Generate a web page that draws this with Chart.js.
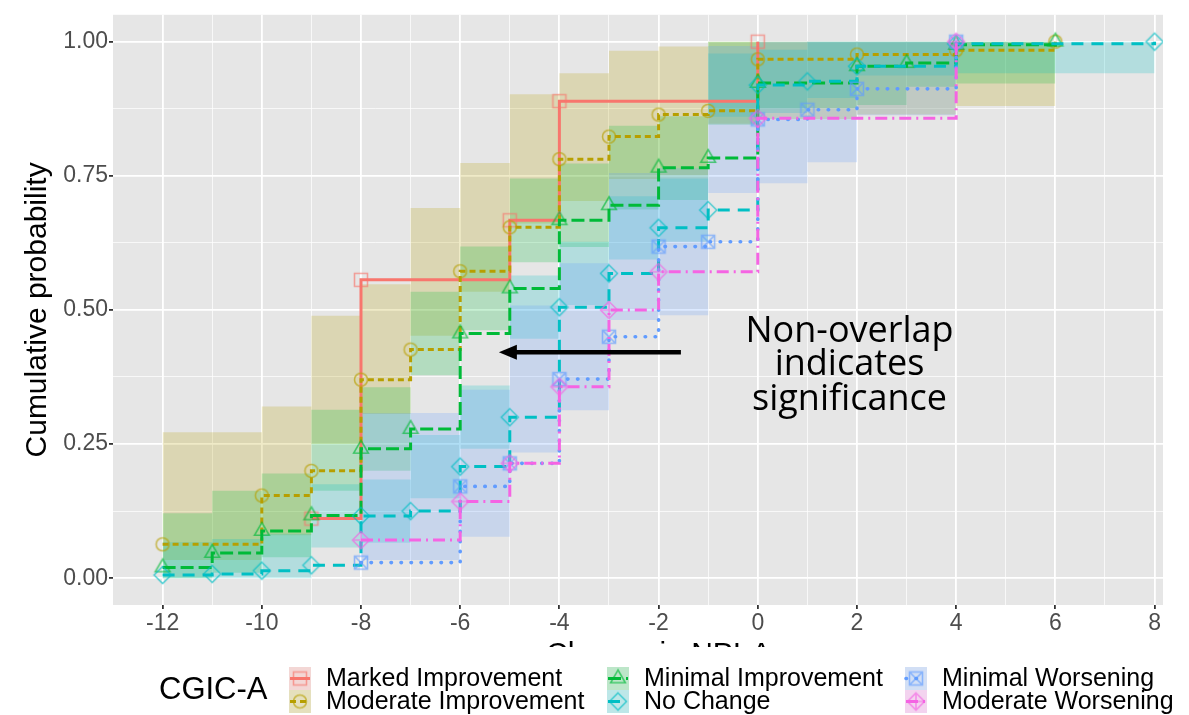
<!DOCTYPE html>
<html>
<head>
<meta charset="utf-8">
<script src="https://cdn.jsdelivr.net/npm/chart.js@4.4.1/dist/chart.umd.min.js"></script>
<style>
  html, body { margin: 0; padding: 0; background: #ffffff; }
  #wrap { position: relative; width: 1189px; height: 715px; }
</style>
</head>
<body>
<div id="wrap"><canvas id="cdfChart" width="1189" height="715"></canvas></div>
<script>
// CGIC-A rating groups, in legend order
const groups = ['Marked Improvement', 'Moderate Improvement', 'Minimal Improvement',
                'No Change', 'Minimal Worsening', 'Moderate Worsening'];

// Change in NPI-A where each group's ECDF steps up, and the cumulative probability after the step
const markedX   = [-9, -8, -5, -4, 0];
const markedP   = [0.111, 0.556, 0.667, 0.889, 1.0];
const moderateX = [-12, -10, -9, -8, -7, -6, -5, -4, -3, -2, -1, 0, 2, 4, 6];
const moderateP = [0.063, 0.154, 0.200, 0.370, 0.426, 0.572, 0.654, 0.781, 0.823, 0.864, 0.871, 0.967, 0.976, 0.984, 1.0];
const minimalX  = [-12, -11, -10, -9, -8, -7, -6, -5, -4, -3, -2, -1, 0, 2, 3, 4, 6];
const minimalP  = [0.020, 0.047, 0.088, 0.117, 0.241, 0.278, 0.456, 0.540, 0.667, 0.695, 0.765, 0.783, 0.923, 0.954, 0.960, 0.994, 1.0];
const noChangeX = [-12, -11, -10, -9, -8, -7, -6, -5, -4, -3, -2, -1, 0, 1, 2, 4, 8];
const noChangeP = [0.006, 0.008, 0.014, 0.024, 0.116, 0.125, 0.208, 0.300, 0.505, 0.568, 0.653, 0.686, 0.919, 0.926, 0.954, 0.996, 1.0];
const minWorseX = [-8, -6, -5, -4, -3, -2, -1, 0, 1, 2, 4];
const minWorseP = [0.029, 0.171, 0.214, 0.371, 0.450, 0.618, 0.627, 0.855, 0.873, 0.912, 1.0];
const modWorseX = [-8, -6, -5, -4, -3, -2, 0, 4];
const modWorseP = [0.071, 0.143, 0.214, 0.357, 0.500, 0.571, 0.857, 1.0];

// Confidence bands: breakpoints, then lower / upper bound for each interval between them
const moderateBandX  = [-12, -10, -9, -8, -7, -6, -5, -4, -3, -2, -1, 0, 2, 4, 6];
const moderateLo     = [0.034, 0.080, 0.250, 0.306, 0.452, 0.534, 0.661, 0.703, 0.744, 0.751, 0.847, 0.856, 0.864, 0.880];
const moderateHi     = [0.272, 0.320, 0.489, 0.548, 0.690, 0.774, 0.902, 0.941, 0.983, 0.991, 1.0, 1.0, 1.0, 1.0];
const minimalBandX   = [-12, -11, -10, -9, -8, -7, -6, -5, -4, -3, -2, -1, 0, 2, 3, 4, 6];
const minimalLo      = [0.0, 0.010, 0.039, 0.163, 0.200, 0.378, 0.462, 0.589, 0.617, 0.687, 0.705, 0.845, 0.876, 0.882, 0.916, 0.922];
const minimalHi      = [0.121, 0.163, 0.195, 0.314, 0.356, 0.534, 0.618, 0.745, 0.773, 0.843, 0.861, 1.0, 1.0, 1.0, 1.0, 1.0];
const noChangeBandX  = [-12, -11, -10, -9, -8, -7, -6, -5, -4, -3, -2, -1, 0, 1, 2, 4, 8];
const noChangeLo     = [0.0, 0.0, 0.0, 0.057, 0.066, 0.149, 0.241, 0.446, 0.509, 0.594, 0.627, 0.860, 0.867, 0.895, 0.937, 0.941];
const noChangeHi     = [0.067, 0.073, 0.083, 0.175, 0.184, 0.267, 0.359, 0.564, 0.627, 0.712, 0.745, 0.978, 0.985, 1.0, 1.0, 1.0];
const minWorseBandX  = [-8, -6, -5, -4, -3, -2, -1, 0, 1, 2, 4];
const minWorseLo     = [0.034, 0.077, 0.234, 0.313, 0.481, 0.490, 0.718, 0.736, 0.775, 0.863];
const minWorseHi     = [0.308, 0.351, 0.508, 0.587, 0.755, 0.764, 0.992, 1.0, 1.0, 1.0];

// Axis tick labels
const xTickLabels = ['-12', '-10', '-8', '-6', '-4', '-2', '0', '2', '4', '6', '8'];
const yTickLabels = ['0.00', '0.25', '0.50', '0.75', '1.00'];

// ggplot default hues and the per-group line / marker styles
const hues    = ['#F8766D', '#B79F00', '#00BA38', '#00BFC4', '#619CFF', '#F564E3'];
const dashes  = [[], [6, 4], [13, 5], [12, 8], [0.5, 9.5], [12, 5, 2, 5]];
const caps    = ['butt', 'butt', 'butt', 'butt', 'round', 'butt'];
const widths  = [3, 3, 3, 3, 3.6, 3];
const shapes  = ['square', 'circle', 'triangle', 'diamond', 'squareX', 'diamondPlus'];

function rgba(hex, a) {
  const n = parseInt(hex.slice(1), 16);
  return `rgba(${n >> 16},${(n >> 8) & 255},${n & 255},${a})`;
}

// open ggplot-like point shapes rendered once into small canvases
function makeMarker(shape, color) {
  const s = 22, m = s / 2;
  const c = document.createElement('canvas');
  c.width = s; c.height = s;
  const g = c.getContext('2d');
  g.strokeStyle = color;
  g.lineWidth = 1.6;
  g.beginPath();
  if (shape === 'square' || shape === 'squareX') {
    const h = 6.5;
    g.rect(m - h, m - h, 2 * h, 2 * h);
    if (shape === 'squareX') {
      g.moveTo(m - h, m - h); g.lineTo(m + h, m + h);
      g.moveTo(m + h, m - h); g.lineTo(m - h, m + h);
    }
  } else if (shape === 'circle') {
    g.arc(m, m, 6.5, 0, Math.PI * 2);
  } else if (shape === 'triangle') {
    const r = 8.5;
    g.moveTo(m, m - r);
    g.lineTo(m + r * 0.866, m + r / 2);
    g.lineTo(m - r * 0.866, m + r / 2);
    g.closePath();
  } else {
    const h = 8.5;
    g.moveTo(m, m - h); g.lineTo(m + h, m); g.lineTo(m, m + h); g.lineTo(m - h, m);
    g.closePath();
    if (shape === 'diamondPlus') {
      g.moveTo(m, m - h); g.lineTo(m, m + h);
      g.moveTo(m - h, m); g.lineTo(m + h, m);
    }
  }
  g.stroke();
  return c;
}
const markers = shapes.map((s, i) => makeMarker(s, rgba(hues[i], 0.65)));

function stepPoints(xs, ps) {
  return xs.map((x, i) => ({ x: x, y: ps[i] }));
}
// one value per interval, held from its left breakpoint to the next one
function bandPoints(xs, vals) {
  const pts = vals.map((v, i) => ({ x: xs[i], y: v }));
  pts.push({ x: xs[xs.length - 1], y: vals[vals.length - 1] });
  return pts;
}

// horizontal first, then vertical (ggplot's "hv" step)
const STEP = 'before';

const datasets = [];
const bands = [
  { g: 1, x: moderateBandX, lo: moderateLo, hi: moderateHi },
  { g: 2, x: minimalBandX,  lo: minimalLo,  hi: minimalHi },
  { g: 3, x: noChangeBandX, lo: noChangeLo, hi: noChangeHi },
  { g: 4, x: minWorseBandX, lo: minWorseLo, hi: minWorseHi }
];
bands.forEach((b, k) => {
  const order = 20 - k;
  datasets.push({
    label: groups[b.g] + ' lower', data: bandPoints(b.x, b.lo), stepped: STEP,
    borderWidth: 0, borderColor: 'transparent', pointRadius: 0, fill: false, order: order
  });
  datasets.push({
    label: groups[b.g] + ' upper', data: bandPoints(b.x, b.hi), stepped: STEP,
    borderWidth: 0, borderColor: 'transparent', pointRadius: 0,
    fill: '-1', backgroundColor: rgba(hues[b.g], 0.22), order: order
  });
});

const series = [
  [markedX, markedP], [moderateX, moderateP], [minimalX, minimalP],
  [noChangeX, noChangeP], [minWorseX, minWorseP], [modWorseX, modWorseP]
];
series.forEach((s, i) => {
  datasets.push({
    label: groups[i],
    data: stepPoints(s[0], s[1]),
    stepped: STEP,
    borderColor: hues[i],
    borderWidth: widths[i],
    borderDash: dashes[i],
    borderCapStyle: caps[i],
    fill: false,
    pointStyle: markers[i],
    pointRadius: 8,
    pointHoverRadius: 8,
    order: 10 - i
  });
});

// slide annotation, placed in data units
const noteLines = ['Non-overlap', 'indicates', 'significance'];
const noteX = 1.85;
const noteBaselines = [0.441, 0.379, 0.314];
const arrowTail = { x: -1.55, y: 0.421 };
const arrowTip = { x: -5.22, y: 0.421 };

const FONT = '"Liberation Sans", Arial, sans-serif';
const isMajorX = v => Number.isInteger(v) && v % 2 === 0 && v >= -12 && v <= 8;
const isMinorX = v => Number.isInteger(v) && v > -13 && v < 9;
const near = (a, b) => Math.abs(a - b) < 1e-6;
const isMajorY = v => near(v * 4, Math.round(v * 4)) && v > -1e-6 && v < 1 + 1e-6;
const isMinorY = v => near(v * 8, Math.round(v * 8)) && v > -1e-6 && v < 1 + 1e-6;

const panelBg = {
  id: 'panelBg',
  beforeDraw(chart) {
    const { ctx, chartArea: a } = chart;
    ctx.save();
    ctx.fillStyle = '#E6E6E6';
    ctx.fillRect(a.left, a.top, a.right - a.left, a.bottom - a.top);
    ctx.restore();
  }
};

const annotation = {
  id: 'annotation',
  afterDatasetsDraw(chart) {
    const { ctx, scales: { x, y } } = chart;
    ctx.save();
    const x0 = x.getPixelForValue(arrowTail.x), x1 = x.getPixelForValue(arrowTip.x);
    const ya = y.getPixelForValue(arrowTail.y);
    ctx.strokeStyle = '#000';
    ctx.lineWidth = 4.5;
    ctx.beginPath();
    ctx.moveTo(x0, ya);
    ctx.lineTo(x1 + 14, ya);
    ctx.stroke();
    ctx.fillStyle = '#000';
    ctx.beginPath();
    ctx.moveTo(x1, ya);
    ctx.lineTo(x1 + 18, ya - 7.5);
    ctx.lineTo(x1 + 18, ya + 7.5);
    ctx.closePath();
    ctx.fill();
    ctx.font = '36px "Open Sans", "Noto Sans", sans-serif';
    ctx.textAlign = 'center';
    ctx.textBaseline = 'alphabetic';
    const xt = x.getPixelForValue(noteX);
    noteLines.forEach((t, i) => ctx.fillText(t, xt, y.getPixelForValue(noteBaselines[i])));
    ctx.restore();
  }
};

// x-axis title, partly hidden by the legend box, and the ggplot-style legend
const bottomLegend = {
  id: 'bottomLegend',
  afterDraw(chart) {
    const { ctx, scales: { x } } = chart;
    ctx.save();
    ctx.fillStyle = '#000';
    ctx.font = '30px ' + FONT;
    ctx.textAlign = 'center';
    ctx.textBaseline = 'alphabetic';
    ctx.fillText('Change in NPI-A', x.getPixelForValue(-2), 663);

    ctx.fillStyle = '#ffffff';
    ctx.fillRect(0, 647, chart.width, chart.height - 647);

    ctx.fillStyle = '#000';
    ctx.textAlign = 'left';
    ctx.textBaseline = 'middle';
    ctx.font = '31px ' + FONT;
    ctx.fillText('CGIC-A', 159, 690);

    const colLeft = [289, 607, 905];
    const rowTop = [667, 690];
    const kw = 22, kh = 23;
    ctx.font = '25px ' + FONT;
    groups.forEach((name, i) => {
      const kx = colLeft[Math.floor(i / 2)], ky = rowTop[i % 2];
      ctx.fillStyle = '#F2F2F2';
      ctx.fillRect(kx, ky, kw, kh);
      ctx.fillStyle = rgba(hues[i], 0.22);
      ctx.fillRect(kx, ky, kw, kh);
      ctx.strokeStyle = hues[i];
      ctx.lineWidth = widths[i];
      ctx.lineCap = caps[i];
      ctx.setLineDash(dashes[i]);
      ctx.beginPath();
      ctx.moveTo(kx + 1, ky + kh / 2);
      ctx.lineTo(kx + kw - 1, ky + kh / 2);
      ctx.stroke();
      ctx.setLineDash([]);
      ctx.drawImage(markers[i], kx + kw / 2 - 11, ky + kh / 2 - 11);
      ctx.fillStyle = '#000';
      ctx.fillText(name, kx + 37, ky + kh / 2 + 1);
    });
    ctx.restore();
  }
};

new Chart(document.getElementById('cdfChart'), {
  type: 'line',
  data: { datasets: datasets },
  options: {
    responsive: false,
    animation: false,
    events: [],
    layout: { padding: { top: 7, right: 26, left: 0, bottom: 0 } },
    plugins: { legend: { display: false }, tooltip: { enabled: false } },
    scales: {
      x: {
        type: 'linear',
        min: -13,
        max: 8.17,
        afterFit: s => { s.height = 110; },
        border: { display: false },
        grid: {
          color: c => isMajorX(c.tick.value) ? '#FFFFFF' : (isMinorX(c.tick.value) ? 'rgba(255,255,255,0.8)' : 'transparent'),
          lineWidth: c => isMajorX(c.tick.value) ? 1.8 : 0.9,
          tickColor: c => isMajorX(c.tick.value) ? '#333333' : 'transparent',
          tickLength: 4
        },
        ticks: {
          stepSize: 1,
          includeBounds: false,
          autoSkip: false,
          maxRotation: 0,
          padding: 1,
          color: '#4D4D4D',
          font: { family: FONT, size: 23 },
          callback: v => isMajorX(v) ? xTickLabels[(v + 12) / 2] : ''
        }
      },
      y: {
        type: 'linear',
        min: -0.05,
        max: 1.05,
        afterFit: s => { s.width = 113; },
        border: { display: false },
        grid: {
          color: c => isMajorY(c.tick.value) ? '#FFFFFF' : (isMinorY(c.tick.value) ? 'rgba(255,255,255,0.8)' : 'transparent'),
          lineWidth: c => isMajorY(c.tick.value) ? 1.8 : 0.9,
          tickColor: c => isMajorY(c.tick.value) ? '#333333' : 'transparent',
          tickLength: 4
        },
        ticks: {
          stepSize: 0.125,
          includeBounds: false,
          autoSkip: false,
          padding: 1,
          color: '#4D4D4D',
          font: { family: FONT, size: 23 },
          callback: v => isMajorY(v) ? yTickLabels[Math.round(v * 4)] : ''
        },
        title: {
          display: true,
          text: 'Cumulative probability',
          color: '#000',
          font: { family: FONT, size: 30 },
          padding: { top: 20, bottom: 0 }
        }
      }
    }
  },
  plugins: [panelBg, annotation, bottomLegend]
});
</script>
</body>
</html>
